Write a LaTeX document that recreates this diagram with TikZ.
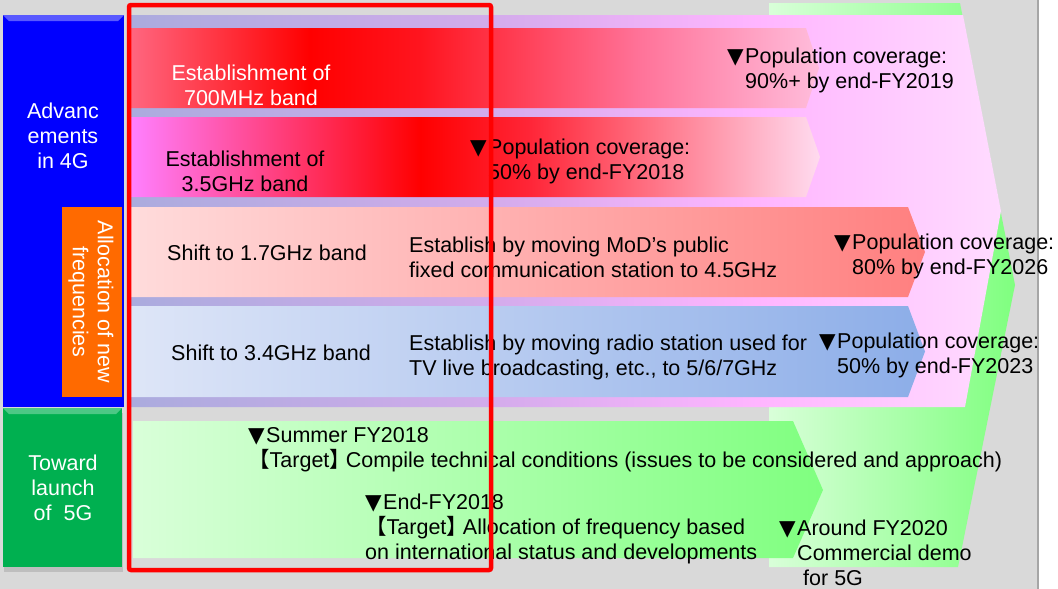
\documentclass[tikz,border=0pt]{standalone}
\usepackage{fontspec}
\setmainfont{Liberation Sans}
\newfontfamily\cjk{Noto Sans CJK JP}
\newfontfamily\sym{DejaVu Sans}
\newcommand\tri{{\sym ▼}\kern1.5pt}
\usepackage{tikz}
\usetikzlibrary{shadows}
\definecolor{bgray}{RGB}{217,217,217}
\definecolor{freqorange}{RGB}{255,106,0}
\definecolor{fivegreen}{RGB}{0,176,80}
\pgfdeclarehorizontalshading{bandA}{100bp}{rgb(0bp)=(1,0.40,0.50); rgb(25bp)=(1,0.40,0.50); rgb(38bp)=(1,0,0); rgb(46bp)=(1,0.08,0.12); rgb(62bp)=(1,0.45,0.6); rgb(75bp)=(1,0.74,0.86); rgb(100bp)=(1,0.74,0.86)}
\pgfdeclarehorizontalshading{bandB}{100bp}{rgb(0bp)=(1,0.5,1); rgb(25bp)=(1,0.5,1); rgb(46bp)=(1,0,0); rgb(54bp)=(1,0.15,0.22); rgb(75bp)=(1,0.86,0.94); rgb(100bp)=(1,0.86,0.94)}
\pgfdeclarehorizontalshading{bandC}{100bp}{rgb(0bp)=(1,0.86,0.86); rgb(25bp)=(1,0.86,0.86); rgb(75bp)=(1,0.5,0.5); rgb(100bp)=(1,0.5,0.5)}
\pgfdeclarehorizontalshading{bandD}{100bp}{rgb(0bp)=(0.87,0.9,0.97); rgb(25bp)=(0.87,0.9,0.97); rgb(75bp)=(0.55,0.68,0.91); rgb(100bp)=(0.55,0.68,0.91)}
\pgfdeclarehorizontalshading{fourG}{100bp}{rgb(0bp)=(0.67,0.67,0.87); rgb(25bp)=(0.67,0.67,0.87); rgb(45bp)=(0.82,0.67,0.92); rgb(61bp)=(1,0.71,1); rgb(75bp)=(1,0.86,1); rgb(100bp)=(1,0.86,1)}
\tikzstyle{txt}=[inner sep=0pt, font=\fontsize{21.5}{25}\selectfont]
\tikzstyle{lbl}=[txt, align=left, anchor=west]
\tikzstyle{ctr}=[txt, align=center]
\tikzstyle{greenband}=[left color={rgb,1:red,0.85;green,1;blue,0.85}, right color={rgb,1:red,0.5;green,1;blue,0.5}]

\begin{document}
\begin{tikzpicture}[x=1pt,y=-1pt]
\useasboundingbox (0,0) rectangle (1058,589);
\fill[white] (0,0) rectangle (1058,589);
\fill[bgray] (0,0) rectangle (1038,589);
\draw[gray!70, line width=2pt] (1038,0) -- (1038,589);

% big arrows behind the bands
\shade[greenband] (769,3) -- (960,3) -- (1015,285) -- (958,567) -- (769,567) -- cycle;
\shade[shading=fourG] (131,15) -- (963,15) -- (1001,211) -- (965,407) -- (131,407) -- cycle;

% bands
\foreach \t/\b/\r/\p/\s in {28/108/806/819/bandA, 117/197/806/820/bandB, 207/297/908/925/bandC, 306/397/908/925/bandD}
  \shade[shading=\s] (131,\t) -- (\r,\t) -- (\p,{(\t+\b)/2}) -- (\r,\b) -- (131,\b) -- cycle;
\shade[greenband] (133,421) -- (793,421) -- (823,490) -- (793,558) -- (133,558) -- cycle;

% left boxes
\fill[blue] (3,15) rectangle (124,407);
\fill[blue!65!white] (3,15) -- (124,15) -- (118,21) -- (9,21) -- cycle;
\fill[freqorange] (62,207) rectangle (122,397);
\fill[fivegreen, drop shadow={opacity=0.3, shadow xshift=1pt, shadow yshift=-5pt}] (3,408) rectangle (122,567);
\fill[fivegreen!70!white] (3,408) -- (122,408) -- (116,414) -- (9,414) -- cycle;
\node[ctr, white] (adv) at (63,136) {Advanc\\ements\\in 4G};
\node[ctr, white, rotate=-90] (alloc) at (91,302) {Allocation of new\\frequencies};
\node[ctr, white] (launch) at (63,488) {Toward\\launch\\of~~5G};

% band texts
\node[ctr, white] (b700) at (251,85) {Establishment of\\700MHz band};
\node[ctr] (b35) at (245,171) {Establishment of\\3.5GHz band};
\node[ctr] (b17) at (267,253) {Shift to 1.7GHz band};
\node[ctr] (b34) at (271,353) {Shift to 3.4GHz band};
\node[lbl] (mod) at (409,257) {Establish by moving MoD’s public\\fixed communication station to 4.5GHz};
\node[lbl] (tv) at (409,357) {Establish by moving radio station used for\\TV live broadcasting, etc., to 5/6/7GHz};

% coverage targets
\node[lbl] (cov19) at (727,70) {\tri Population coverage:\\\hphantom{\tri}90\%+ by end-FY2019};
\node[lbl] (cov18) at (470,161) {\tri Population coverage:\\\hphantom{\tri}50\% by end-FY2018};
\node[lbl] (cov26) at (834,256) {\tri Population coverage:\\\hphantom{\tri}80\% by end-FY2026};
\node[lbl] (cov23) at (819,355) {\tri Population coverage:\\\hphantom{\tri}50\% by end-FY2023};

% 5G texts
\node[lbl] (sum18) at (248,450) {\tri Summer FY2018\\{\cjk 【}Target{\cjk 】}\kern-5pt Compile technical conditions (issues to be considered and approach)};
\node[lbl] (end18) at (365,529) {\tri End-FY2018\\{\cjk 【}Target{\cjk 】}\kern-5pt Allocation of frequency based\\on international status and developments};
\node[lbl] (fy20) at (779,553) {\tri Around FY2020\\\hphantom{\tri}Commercial demo\\\hphantom{\tri}\ for 5G};

\draw[red, line width=4.5pt, rounded corners=2pt] (129,5) rectangle (491,570);
\end{tikzpicture}
\end{document}
